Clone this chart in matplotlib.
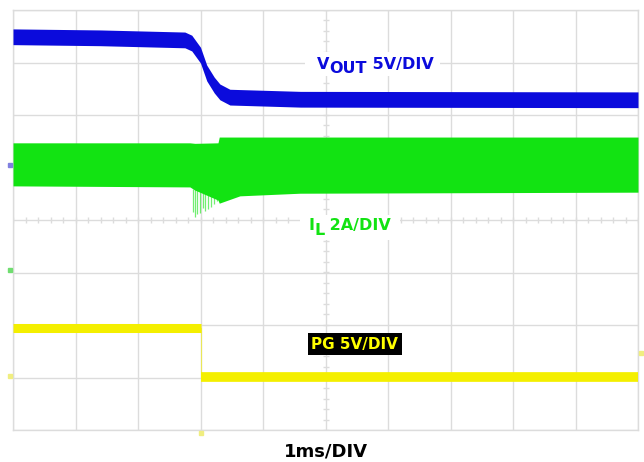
import numpy as np
import matplotlib.pyplot as plt
from matplotlib.patches import Rectangle

# --- scope capture data (time in ms = divisions, traces in screen divisions) ---

vout_t = [0, 1.4, 2.75, 2.86, 3.0, 3.1, 3.22, 3.31, 3.47, 4.6, 10]
vout_div = [3.49, 3.47, 3.43, 3.37, 3.14, 2.80, 2.57, 2.44, 2.34, 2.30, 2.29]

il_t = [0, 2.83, 2.91, 3.28, 3.30, 3.63, 4.59, 10]
il_top = [1.47, 1.47, 1.46, 1.47, 1.58, 1.58, 1.58, 1.58]
il_bot = [0.65, 0.63, 0.57, 0.38, 0.32, 0.46, 0.51, 0.53]

spike_t = [2.88, 2.91, 2.94, 2.99, 3.04, 3.07, 3.12, 3.17, 3.22, 3.26]
spike_min = [0.15, 0.06, 0.11, 0.13, 0.23, 0.17, 0.21, 0.25, 0.30, 0.36]

pg_t = [0, 3.01, 3.01, 10]
pg_div = [-2.05, -2.05, -2.99, -2.99]

BLUE = '#0b0bdc'
GREEN = '#12e312'
YELLOW = '#f4ef00'
GRID = '#dcdcdc'

plt.rcParams['font.family'] = ['DejaVu Sans']

fig = plt.figure(figsize=(6.44, 4.62), dpi=100)
ax = fig.add_axes([13 / 644, 32 / 462, 625 / 644, 420 / 462])
ax.set_xlim(0, 10)
ax.set_ylim(-4, 4)

# graticule
ax.set_xticks(range(11))
ax.set_yticks(range(-4, 5))
ax.tick_params(length=0, labelbottom=False, labelleft=False)
ax.grid(True, color=GRID, lw=1.0)
for s in ax.spines.values():
    s.set_color(GRID)
    s.set_linewidth(1.0)
minor = np.arange(0, 10.01, 0.2)
ax.plot(minor, np.zeros_like(minor), ls='', marker='|', ms=4, color=GRID, mew=1)
minor_y = np.arange(-4, 4.01, 0.2)
ax.plot(np.full_like(minor_y, 5), minor_y, ls='', marker='_', ms=4, color=GRID, mew=1)

# VOUT trace
vt = np.array(vout_t)
vd = np.array(vout_div)
ax.fill_between(vt, vd - 0.15, vd + 0.15, color=BLUE, lw=0, zorder=3)

# IL trace (switching ripple envelope)
ax.fill_between(il_t, il_bot, il_top, color=GREEN, lw=0, zorder=3)
ax.vlines(spike_t, spike_min, 0.6, color=GREEN, lw=0.9, alpha=0.6, zorder=3)

# PG trace
ax.plot(pg_t[:2], pg_div[:2], color=YELLOW, lw=6.5, solid_capstyle='butt', zorder=3)
ax.plot(pg_t[2:], pg_div[2:], color=YELLOW, lw=7, solid_capstyle='butt', zorder=3)
ax.plot(pg_t[1:3], pg_div[1:3], color=YELLOW, lw=0.8, alpha=0.6, zorder=3)

# channel / trigger markers
ax.plot(-0.05, 1.05, marker='s', ms=3, color='#8080e0', clip_on=False, zorder=4)
ax.plot(-0.05, -0.95, marker='s', ms=3, color='#70dd70', clip_on=False, zorder=4)
ax.plot(-0.05, -2.97, marker='s', ms=3, color='#f0ee80', clip_on=False, zorder=4)
ax.plot(10.05, -2.53, marker='s', ms=3, color='#f0ee80', clip_on=False, zorder=4)
ax.plot(3.0, -4.06, marker='s', ms=3, color='#f0ee80', clip_on=False, zorder=4)

# white backing behind the trace labels
ax.add_patch(Rectangle((4.67, 2.74), 2.16, 0.46, facecolor='white', edgecolor='none', zorder=4))
ax.add_patch(Rectangle((4.59, -0.38), 1.6, 0.47, facecolor='white', edgecolor='none', zorder=4))

# labels
fs = 11.5
kw = dict(fontsize=fs, fontweight='bold', zorder=5)
v = ax.text(4.86, 2.97, 'V', color=BLUE, va='center', **kw)
vs = ax.annotate('OUT', xy=(1, 0), xycoords=v, xytext=(0, -3.5), textcoords='offset points',
                 color=BLUE, va='bottom', **kw)
ax.annotate(' 5V/DIV', xy=(1, 0), xycoords=vs, xytext=(0, 3.5), textcoords='offset points',
            color=BLUE, va='bottom', **kw)

i = ax.text(4.72, -0.11, 'I', color=GREEN, va='center', **kw)
isub = ax.annotate('L', xy=(1, 0), xycoords=i, xytext=(0, -3.5), textcoords='offset points',
                   color=GREEN, va='bottom', **kw)
ax.annotate(' 2A/DIV', xy=(1, 0), xycoords=isub, xytext=(0, 3.5), textcoords='offset points',
            color=GREEN, va='bottom', **kw)

ax.text(4.77, -2.37, 'PG 5V/DIV', color='#ffff00', fontsize=11, fontweight='bold', va='center',
        bbox=dict(facecolor='black', edgecolor='none', pad=2.5), zorder=5)

fig.text(326 / 644, 1 - 452 / 462, '1ms/DIV', ha='center', va='center', fontsize=13,
         fontweight='bold', color='black')

fig.savefig('out.png', dpi=100)
